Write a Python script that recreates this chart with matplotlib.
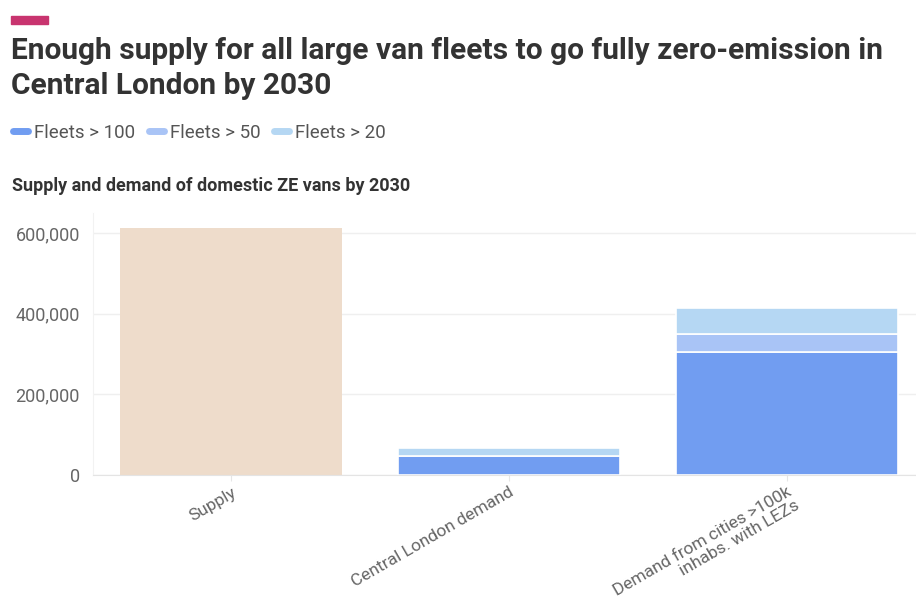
"""Stacked bar chart: supply vs demand of zero-emission vans by 2030"""

import matplotlib

matplotlib.use("Agg")
import matplotlib.pyplot as plt
from matplotlib.lines import Line2D
from matplotlib.ticker import FuncFormatter

plt.rcParams["font.family"] = ["Roboto", "DejaVu Sans"]

# data
categories = ["Supply", "Central London demand", "Demand from cities >100k\ninhabs. with LEZs"]
supply = [612000, 0, 0]
fleets_100 = [0, 48000, 305000]
fleets_50 = [0, 0, 44500]
fleets_20 = [0, 19000, 66000]
series_names = ["Fleets > 100", "Fleets > 50", "Fleets > 20"]
y_ticks = [0, 200000, 400000, 600000]

SUPPLY_COLOR = "#eedccb"
SERIES_COLORS = ["#719df1", "#a9c4f6", "#b5d7f3"]
TEXT_DARK = "#333333"
TEXT_GREY = "#666666"

fig = plt.figure(figsize=(9.16, 6.10), dpi=100, facecolor="white")
ax = fig.add_axes([0.1015, 0.2213, 0.8985, 0.4295])

x = list(range(len(categories)))
width = 0.8

# supply bar
ax.bar(x, supply, width=width, color=SUPPLY_COLOR, edgecolor="white", linewidth=0, zorder=2)

# stacked demand bars
bottom = [0] * len(categories)
for name, vals, color in zip(series_names, [fleets_100, fleets_50, fleets_20], SERIES_COLORS):
    keep = [i for i, v in enumerate(vals) if v > 0]
    ax.bar(
        [x[i] for i in keep],
        [vals[i] for i in keep],
        bottom=[bottom[i] for i in keep],
        width=width,
        color=color,
        edgecolor="white",
        linewidth=1.2,
        zorder=2,
    )
    bottom = [b + v for b, v in zip(bottom, vals)]

ax.set_xlim(-0.497, 2.464)
ax.set_ylim(0, 650000)

# grid and spines
ax.set_yticks(y_ticks)
ax.yaxis.set_major_formatter(FuncFormatter(lambda v, _: f"{int(v):,}"))
ax.grid(axis="y", color="#efefef", linewidth=1, zorder=0)
ax.set_axisbelow(True)
for side in ["top", "right"]:
    ax.spines[side].set_visible(False)
ax.spines["left"].set_color("#f2f2f2")
ax.spines["bottom"].set_color("#e4e4e4")

ax.tick_params(axis="y", length=0, pad=9.5, labelsize=13, labelcolor=TEXT_GREY)
ax.tick_params(axis="x", length=4, color="#e6e6e6", pad=3, labelsize=12.5, labelcolor=TEXT_GREY)

ax.set_xticks(x)
ax.set_xticklabels(categories, rotation=30, ha="right", rotation_mode="anchor",
                   multialignment="right", linespacing=1.0)

# header
fig.patches.append(
    plt.Rectangle((11 / 916, 1 - 24 / 610), 37 / 916, 8 / 610, transform=fig.transFigure,
                  color="#c8346f", zorder=3)
)
fig.text(
    11 / 916, 1 - 37 / 610,
    "Enough supply for all large van fleets to go fully zero-emission in\nCentral London by 2030",
    ha="left", va="top", fontsize=21.5, fontweight="bold", color=TEXT_DARK, linespacing=1.3,
)

handles = [
    Line2D([0], [0], color=c, lw=5, solid_capstyle="round") for c in SERIES_COLORS
]
fig.legend(
    handles, series_names,
    loc="center left", bbox_to_anchor=(0.0, 1 - 133 / 610),
    ncol=3, frameon=False, handlelength=0.8, handletextpad=0.3, columnspacing=0.75,
    fontsize=13.5, labelcolor="#555555", borderaxespad=0.3,
)

fig.text(
    12 / 916, 1 - 186 / 610,
    "Supply and demand of domestic ZE vans by 2030",
    ha="left", va="center", fontsize=13, fontweight="bold", color=TEXT_DARK,
)

fig.savefig("out.png", dpi=100, facecolor="white")
